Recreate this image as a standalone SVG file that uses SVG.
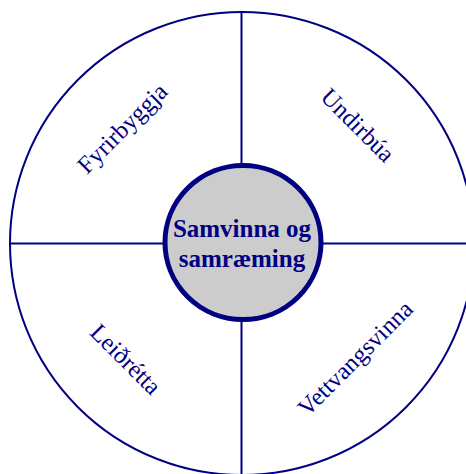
<svg xmlns="http://www.w3.org/2000/svg" width="466" height="474" viewBox="0 0 466 474">
  <style>
    .ln { stroke: #000080; stroke-width: 2; fill: none; }
    .lbl { font-family: "Liberation Serif", "Times New Roman", serif; font-size: 24.5px; fill: #000080; text-anchor: middle; }
    .ctr { font-family: "Liberation Serif", "Times New Roman", serif; font-size: 25px; font-weight: bold; fill: #000080; text-anchor: middle; }
  </style>
  <rect width="466" height="474" fill="#ffffff"/>
  <g id="outer-ring">
    <ellipse cx="242" cy="243.5" rx="232" ry="231.5" class="ln"/>
  </g>
  <g id="connectors">
    <line x1="241.5" y1="12" x2="241.5" y2="474" class="ln"/>
    <line x1="10" y1="243.5" x2="466" y2="243.5" class="ln"/>
  </g>
  <g id="node-fyrirbyggja">
    <text class="lbl" transform="translate(128,134) rotate(-45)">Fyrirbyggja</text>
  </g>
  <g id="node-undirbua">
    <text class="lbl" transform="translate(352,131) rotate(45)">Undirbúa</text>
  </g>
  <g id="node-leidretta">
    <text class="lbl" transform="translate(120,365) rotate(45)">Leiðrétta</text>
  </g>
  <g id="node-vettvangsvinna">
    <text class="lbl" transform="translate(361,364) rotate(-45)">Vettvangsvinna</text>
  </g>
  <g id="node-center">
    <ellipse cx="243" cy="242.5" rx="78" ry="77" fill="#cccccc" stroke="#000080" stroke-width="5"/>
    <text class="ctr" x="242" y="237">Samvinna og</text>
    <text class="ctr" x="242" y="267">samræming</text>
  </g>
</svg>
